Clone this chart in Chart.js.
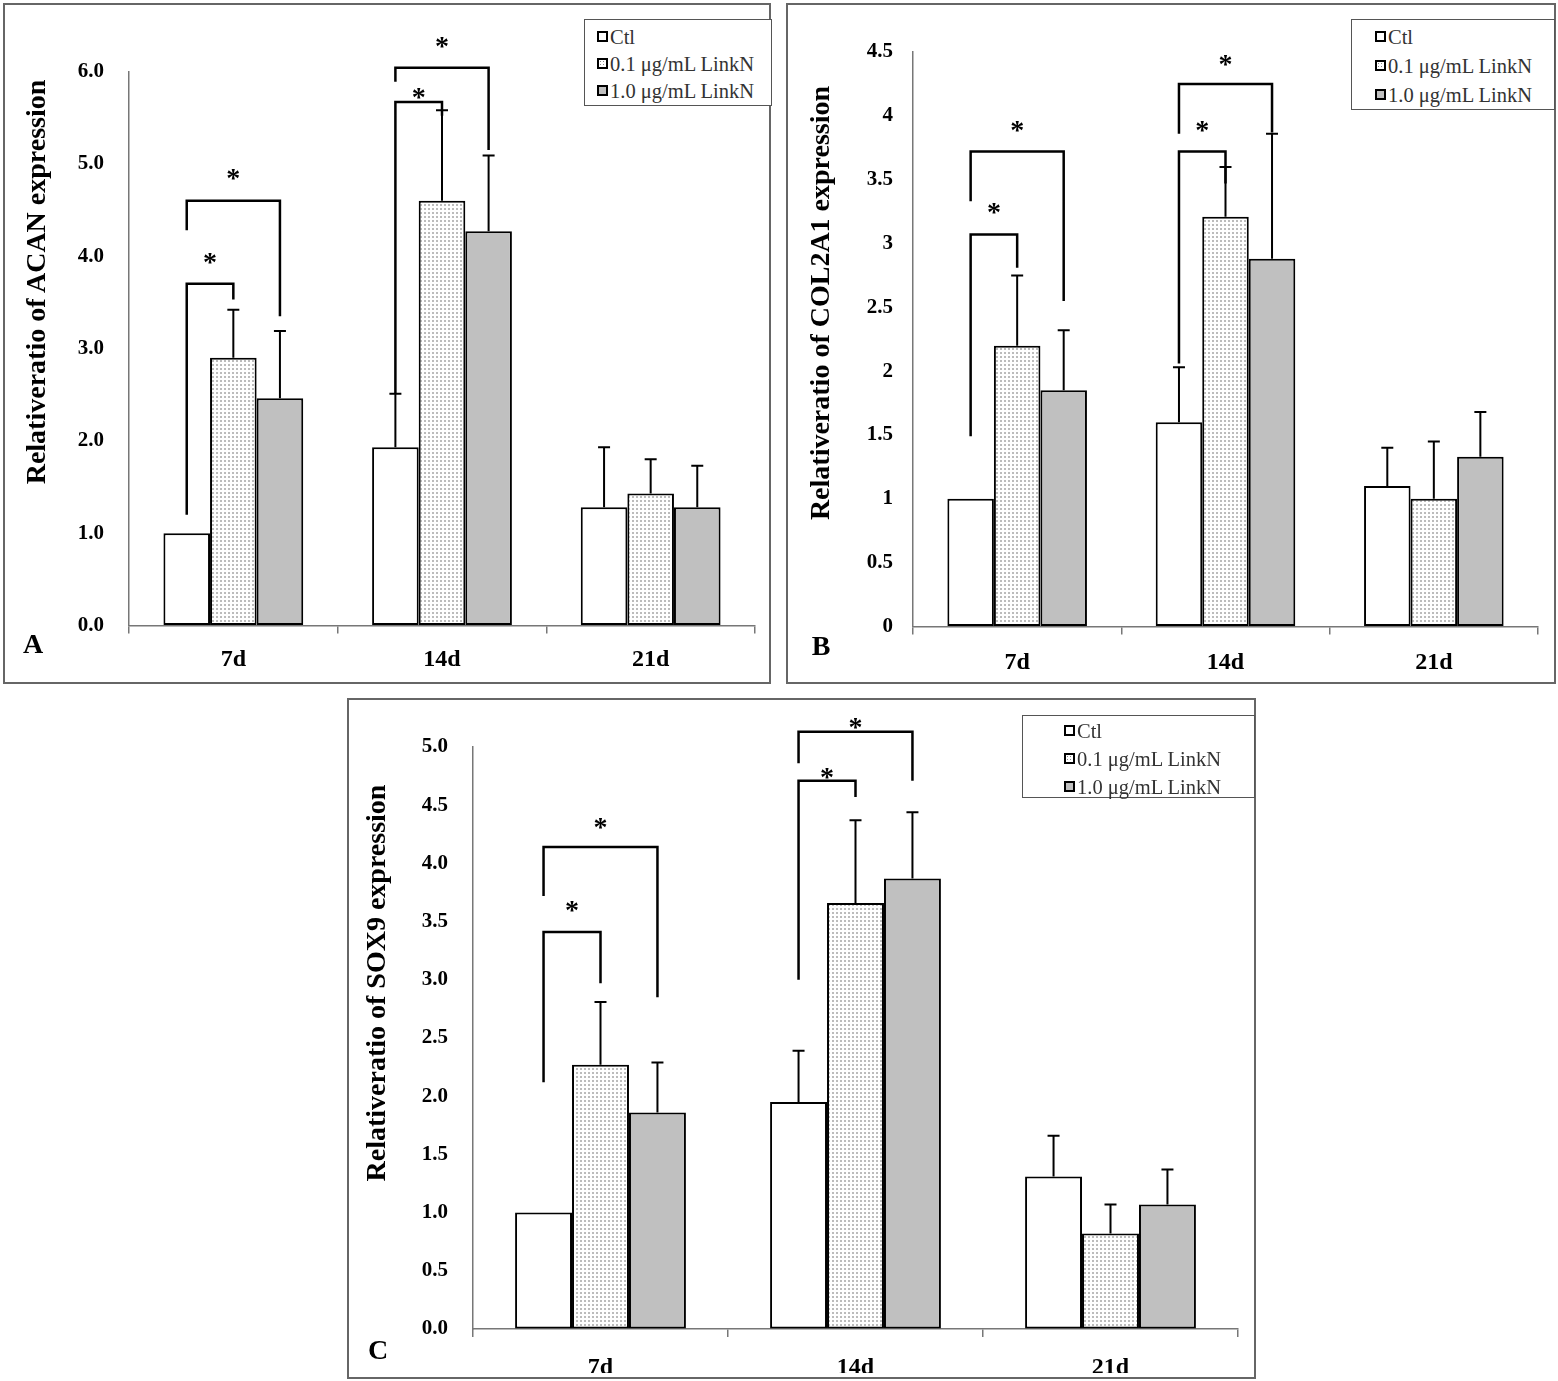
<!DOCTYPE html>
<html>
<head>
<meta charset="utf-8">
<script src="https://cdn.jsdelivr.net/npm/chart.js@4.4.0/dist/chart.umd.min.js"></script>
<style>
body{margin:0;background:#fff;width:1558px;height:1381px;position:relative;overflow:hidden;font-family:'Liberation Serif','Times New Roman',serif;}
.box{position:absolute;border:2px solid #666;box-sizing:border-box;}
canvas{position:absolute;}
.legend{position:absolute;border:1.5px solid #555;box-sizing:border-box;background:#fff;font-size:20.5px;color:#333;}
.legend div{white-space:nowrap;}
.sw{display:inline-block;width:7px;height:7px;border:2px solid #000;vertical-align:middle;margin-right:2px;position:relative;top:-3px;}
.ytitle{position:absolute;font-weight:bold;font-size:28px;white-space:nowrap;transform:translate(-50%,-50%) rotate(-90deg);}
.letter{position:absolute;font-weight:bold;font-size:28px;transform:translate(-50%,-50%);}
</style>
</head>
<body>
<div class="box" style="left:3px;top:3px;width:768px;height:681px;"></div>
<div class="box" style="left:786px;top:3px;width:770px;height:681px;"></div>
<div class="box" style="left:347px;top:698px;width:909px;height:681px;"></div>

<canvas id="chartA" width="767" height="680" style="left:3px;top:3px;"></canvas>
<canvas id="chartB" width="768" height="680" style="left:787px;top:3px;"></canvas>
<canvas id="chartC" width="908" height="679" style="left:347px;top:699px;"></canvas>

<div class="ytitle" style="left:36px;top:282px;">Relativeratio of ACAN expression</div>
<div class="ytitle" style="left:820px;top:303px;">Relativeratio of COL2A1 expression</div>
<div class="ytitle" style="left:376px;top:983px;">Relativeratio of SOX9 expression</div>

<div class="letter" style="left:33px;top:644px;">A</div>
<div class="letter" style="left:821px;top:646px;">B</div>
<div class="letter" style="left:378px;top:1350px;">C</div>

<div class="legend" id="legA" style="left:584px;top:19px;width:188px;height:87px;padding:4px 0 0 12px;line-height:27px;"></div>
<div class="legend" id="legB" style="left:1351px;top:19px;width:204px;height:91px;padding:3px 0 0 23px;line-height:29px;"></div>
<div class="legend" id="legC" style="left:1022px;top:715px;width:233px;height:83px;padding:1px 0 0 41px;line-height:28px;"></div>

<script>
// categories + legend names
var categories = ['7d', '14d', '21d'];
var seriesNames = ['Ctl', '0.1 \u03bcg/mL LinkN', '1.0 \u03bcg/mL LinkN'];

// A - ACAN (mean, sd)
var acanCtl = [1.00, 1.93, 1.28];
var acanCtlSd = [0, 0.58, 0.65];
var acanLow = [2.90, 4.60, 1.43];
var acanLowSd = [0.52, 0.98, 0.37];
var acanHigh = [2.46, 4.27, 1.28];
var acanHighSd = [0.73, 0.82, 0.45];
var acanTicks = [0, 1, 2, 3, 4, 5, 6];

// B - COL2A1
var colCtl = [1.00, 1.60, 1.10];
var colCtlSd = [0, 0.43, 0.30];
var colLow = [2.20, 3.21, 1.00];
var colLowSd = [0.55, 0.39, 0.45];
var colHigh = [1.85, 2.88, 1.33];
var colHighSd = [0.47, 0.98, 0.35];
var colTicks = [0, 0.5, 1, 1.5, 2, 2.5, 3, 3.5, 4, 4.5];

// C - SOX9
var soxCtl = [1.00, 1.95, 1.31];
var soxCtlSd = [0, 0.44, 0.35];
var soxLow = [2.27, 3.66, 0.82];
var soxLowSd = [0.54, 0.71, 0.25];
var soxHigh = [1.86, 3.87, 1.07];
var soxHighSd = [0.43, 0.57, 0.30];
var soxTicks = [0, 0.5, 1, 1.5, 2, 2.5, 3, 3.5, 4, 4.5, 5];

// significance brackets: [category, from series, to series, left leg start, top, right leg end, star]
var acanSig = [[0, 0, 1, 1.20, 3.70, 3.53, 3.98], [0, 0, 2, 4.28, 4.60, 3.35, 4.89],
               [1, 0, 1, 2.51, 5.67, 5.52, 5.77], [1, 0, 2, 5.89, 6.04, 5.15, 6.32]];
var colSig = [[0, 0, 1, 1.49, 3.07, 2.81, 3.28], [0, 0, 2, 3.33, 3.72, 2.55, 3.92],
              [1, 0, 1, 2.06, 3.72, 3.47, 3.92], [1, 0, 2, 3.86, 4.25, 3.87, 4.44]];
var soxSig = [[0, 0, 1, 2.12, 3.41, 2.97, 3.63], [0, 0, 2, 3.72, 4.14, 2.85, 4.35],
              [1, 0, 1, 3.00, 4.71, 4.57, 4.78], [1, 0, 2, 4.86, 5.13, 4.71, 5.21]];

var FONT = "'Liberation Serif', 'Times New Roman', serif";

// dotted fill for the 0.1 group
var tile = document.createElement('canvas');
tile.width = 4; tile.height = 4;
var tctx = tile.getContext('2d');
tctx.fillStyle = '#fff'; tctx.fillRect(0, 0, 4, 4);
tctx.fillStyle = '#bcbcbc'; tctx.fillRect(1, 1, 2, 2);
var dots = tctx.createPattern(tile, 'repeat');

var errorBars = {
  id: 'errorBars',
  afterDatasetsDraw: function(chart) {
    var ctx = chart.ctx, y = chart.scales.y;
    ctx.save();
    ctx.strokeStyle = '#000';
    ctx.lineWidth = 2;
    chart.data.datasets.forEach(function(ds, i) {
      chart.getDatasetMeta(i).data.forEach(function(bar, j) {
        if (!ds.sd[j]) return;
        var top = y.getPixelForValue(ds.data[j] + ds.sd[j]);
        ctx.beginPath();
        ctx.moveTo(bar.x, bar.y);
        ctx.lineTo(bar.x, top);
        ctx.moveTo(bar.x - 6, top);
        ctx.lineTo(bar.x + 6, top);
        ctx.stroke();
      });
    });
    ctx.restore();
  }
};

function bracketPlugin(sig) {
  return {
    id: 'sigBrackets',
    afterDatasetsDraw: function(chart) {
      var ctx = chart.ctx, y = chart.scales.y;
      ctx.save();
      ctx.strokeStyle = '#000';
      ctx.lineWidth = 2.5;
      ctx.fillStyle = '#000';
      ctx.font = 'bold 28px ' + FONT;
      ctx.textAlign = 'center';
      ctx.textBaseline = 'alphabetic';
      sig.forEach(function(b) {
        var a = chart.getDatasetMeta(b[1]).data[b[0]];
        var c = chart.getDatasetMeta(b[2]).data[b[0]];
        var top = y.getPixelForValue(b[4]);
        ctx.beginPath();
        ctx.moveTo(a.x, y.getPixelForValue(b[3]));
        ctx.lineTo(a.x, top);
        ctx.lineTo(c.x, top);
        ctx.lineTo(c.x, y.getPixelForValue(b[5]));
        ctx.stroke();
        ctx.fillText('*', (a.x + c.x) / 2, y.getPixelForValue(b[6]) + 13);
      });
      ctx.restore();
    }
  };
}

function makeChart(id, ctl, ctlSd, low, lowSd, high, highSd, ticks, decimals, sig, pad, xPad, yPad) {
  var yMax = ticks[ticks.length - 1];
  return new Chart(document.getElementById(id), {
    type: 'bar',
    data: {
      labels: categories,
      datasets: [
        {label: seriesNames[0], data: ctl, sd: ctlSd, backgroundColor: '#fff'},
        {label: seriesNames[1], data: low, sd: lowSd, backgroundColor: dots},
        {label: seriesNames[2], data: high, sd: highSd, backgroundColor: '#c0c0c0'}
      ]
    },
    options: {
      responsive: false,
      animation: false,
      devicePixelRatio: 1,
      layout: {padding: pad},
      datasets: {
        bar: {categoryPercentage: 0.67, barPercentage: 1, borderColor: '#000', borderWidth: 2, borderSkipped: false}
      },
      plugins: {legend: {display: false}, tooltip: {enabled: false}},
      scales: {
        x: {
          grid: {drawOnChartArea: false, color: '#777', lineWidth: 1.5, tickLength: 8},
          border: {color: '#777', width: 1.5},
          ticks: {color: '#000', padding: xPad, font: {family: FONT, size: 24, weight: 'bold'}},
          afterFit: function(s) { s.height = 44; }
        },
        y: {
          min: 0, max: yMax,
          grid: {drawOnChartArea: false, drawTicks: false},
          border: {color: '#777', width: 1.5},
          afterBuildTicks: function(s) { s.ticks = ticks.map(function(v) { return {value: v}; }); },
          ticks: {
            color: '#000', padding: yPad, font: {family: FONT, size: 21, weight: 'bold'},
            callback: function(v) { return decimals ? v.toFixed(1) : String(v); }
          },
          afterFit: function(s) { s.width = 60; }
        }
      }
    },
    plugins: [errorBars, bracketPlugin(sig)]
  });
}

makeChart('chartA', acanCtl, acanCtlSd, acanLow, acanLowSd, acanHigh, acanHighSd, acanTicks, true, acanSig,
  {left: 66, top: 68.5, right: 15, bottom: 13.5}, 12, 25);
makeChart('chartB', colCtl, colCtlSd, colLow, colLowSd, colHigh, colHighSd, colTicks, false, colSig,
  {left: 66, top: 49, right: 17, bottom: 12.5}, 14, 20);
makeChart('chartC', soxCtl, soxCtlSd, soxLow, soxLowSd, soxHigh, soxHighSd, soxTicks, true, soxSig,
  {left: 66, top: 48, right: 17, bottom: 5}, 16, 25);

// legends
var swatches = ['background:#fff', 'background:radial-gradient(circle,#888 35%,transparent 45%) 0 0/3px 3px,#fff', 'background:#c0c0c0'];
['legA', 'legB', 'legC'].forEach(function(id) {
  var el = document.getElementById(id);
  seriesNames.forEach(function(name, i) {
    var row = document.createElement('div');
    row.innerHTML = '<span class="sw" style="' + swatches[i] + '"></span>' + name;
    el.appendChild(row);
  });
});
</script>
</body>
</html>
